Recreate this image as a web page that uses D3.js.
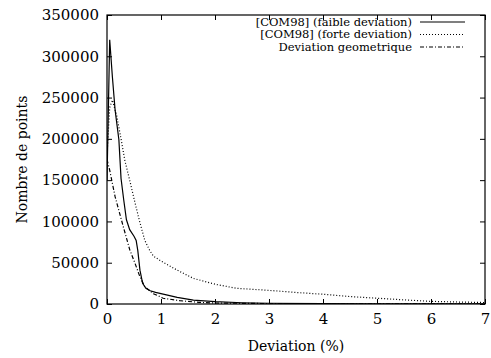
<!DOCTYPE html>
<html>
<head>
<meta charset="utf-8">
<script src="https://cdn.jsdelivr.net/npm/d3@7"></script>
<style>
  body { margin: 0; background: #fff; }
  svg { display: block; }
</style>
</head>
<body>
<svg id="chart" width="491" height="358"></svg>
<script>
// faible deviation (solid)
var faibleX = [0, 0.05, 0.1, 0.15, 0.22, 0.26, 0.31, 0.36, 0.42, 0.5, 0.54, 0.57, 0.61, 0.66, 0.72, 0.8, 0.9, 1.04, 1.3, 1.6, 2.0, 2.5, 3, 4, 5, 6, 7];
var faibleY = [150000, 320000, 275000, 235000, 199000, 152000, 126000, 102000, 90000, 82000, 77000, 65000, 41000, 25000, 19000, 16000, 14000, 12000, 8000, 4800, 2800, 1500, 900, 400, 200, 100, 50];

// forte deviation (dotted)
var forteX = [0, 0.05, 0.1, 0.18, 0.26, 0.33, 0.42, 0.51, 0.6, 0.7, 0.79, 0.86, 1.0, 1.3, 1.6, 2.0, 2.4, 3.0, 3.5, 4.0, 4.5, 5.0, 5.5, 6.0, 6.5, 7.0];
var forteY = [180000, 238000, 247000, 228000, 200000, 174000, 150000, 125000, 101000, 77000, 65000, 58000, 52000, 41000, 31000, 24000, 19000, 16500, 14000, 11800, 9000, 7000, 5000, 3200, 2400, 1800];

// deviation geometrique (dash-dot)
var geoX = [0, 0.05, 0.15, 0.3, 0.42, 0.52, 0.61, 0.7, 0.86, 1.04, 1.35, 1.7, 2.0, 3, 4, 5, 6, 7];
var geoY = [175000, 162000, 130000, 94000, 66000, 49000, 33000, 21000, 12500, 7000, 4000, 2000, 1200, 500, 200, 100, 50, 20];

var xTicks = [0, 1, 2, 3, 4, 5, 6, 7];
var yTicks = [0, 50000, 100000, 150000, 200000, 250000, 300000, 350000];

var series = [
  { name: "[COM98] (faible deviation)", xs: faibleX, ys: faibleY, dash: null },
  { name: "[COM98] (forte deviation)", xs: forteX, ys: forteY, dash: "1,2" },
  { name: "Deviation geometrique", xs: geoX, ys: geoY, dash: "4,2,1,2" }
];

var serif = "DejaVu Serif";
var margin = { left: 107, right: 6, top: 15, bottom: 54 };
var W = 491, H = 358;

var x = d3.scaleLinear().domain([0, 7]).range([margin.left, W - margin.right]);
var y = d3.scaleLinear().domain([0, 350000]).range([H - margin.bottom, margin.top]);

var svg = d3.select("#chart");

svg.append("clipPath").attr("id", "plotclip")
  .append("rect")
  .attr("x", x(0)).attr("y", y(350000))
  .attr("width", x(7) - x(0)).attr("height", y(0) - y(350000));

var tickLen = 5;

// axes with mirror ticks (gnuplot style)
var gx = svg.append("g").attr("transform", "translate(0," + y(0) + ")")
  .call(d3.axisBottom(x).tickValues(xTicks).tickSize(-tickLen).tickPadding(9).tickFormat(d3.format("d")));
var gxt = svg.append("g").attr("transform", "translate(0," + y(350000) + ")")
  .call(d3.axisTop(x).tickValues(xTicks).tickSize(-tickLen).tickFormat(""));
var gy = svg.append("g").attr("transform", "translate(" + x(0) + ",0)")
  .call(d3.axisLeft(y).tickValues(yTicks).tickSize(-tickLen).tickPadding(8).tickFormat(d3.format("d")));
var gyr = svg.append("g").attr("transform", "translate(" + x(7) + ",0)")
  .call(d3.axisRight(y).tickValues(yTicks).tickSize(-tickLen).tickFormat(""));

[gx, gxt, gy, gyr].forEach(function(g) {
  g.attr("font-family", serif).attr("font-size", 15);
  g.select(".domain").remove();
  g.selectAll("line").attr("stroke", "#000").attr("stroke-width", 1);
  g.selectAll("text").attr("fill", "#000");
});

svg.append("rect")
  .attr("x", x(0)).attr("y", y(350000))
  .attr("width", x(7) - x(0)).attr("height", y(0) - y(350000))
  .attr("fill", "none").attr("stroke", "#000").attr("stroke-width", 1.2);

var line = d3.line()
  .x(function(d) { return x(d[0]); })
  .y(function(d) { return y(d[1]); });

series.forEach(function(s) {
  var pts = s.xs.map(function(v, i) { return [v, s.ys[i]]; });
  svg.append("path")
    .datum(pts)
    .attr("clip-path", "url(#plotclip)")
    .attr("fill", "none")
    .attr("stroke", "#000")
    .attr("stroke-width", 1.2)
    .attr("stroke-dasharray", s.dash)
    .attr("d", line);
});

// legend
var legend = svg.append("g").attr("font-family", serif).attr("font-size", 11.5);
series.forEach(function(s, i) {
  var ly = 22 + i * 12.5;
  legend.append("text")
    .attr("x", 412).attr("y", ly)
    .attr("dy", "0.33em")
    .attr("text-anchor", "end")
    .text(s.name);
  legend.append("line")
    .attr("x1", 420).attr("x2", 465)
    .attr("y1", ly).attr("y2", ly)
    .attr("stroke", "#000").attr("stroke-width", 1.2)
    .attr("stroke-dasharray", s.dash);
});

svg.append("text")
  .attr("x", (x(0) + x(7)) / 2).attr("y", 346)
  .attr("dy", "0.33em")
  .attr("text-anchor", "middle")
  .attr("font-family", serif).attr("font-size", 14)
  .text("Deviation (%)");

svg.append("text")
  .attr("transform", "translate(22," + ((y(0) + y(350000)) / 2) + ") rotate(-90)")
  .attr("dy", "0.33em")
  .attr("text-anchor", "middle")
  .attr("font-family", serif).attr("font-size", 14)
  .text("Nombre de points");
</script>
</body>
</html>
